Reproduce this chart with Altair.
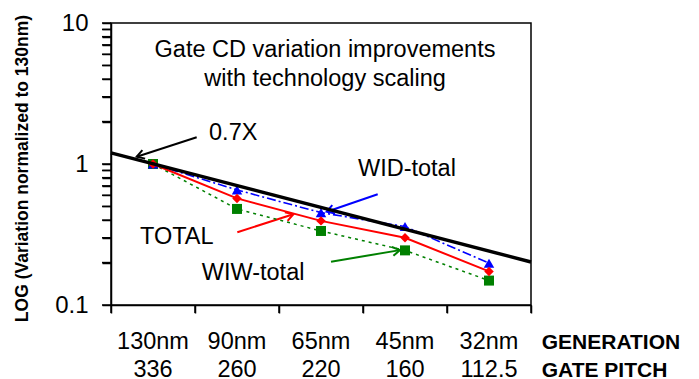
import altair as alt
import pandas as pd

# ---- data ----
categories = ["130nm", "90nm", "65nm", "45nm", "32nm"]
gate_pitch = ["336", "260", "220", "160", "112.5"]
total = [1.0, 0.57, 0.395, 0.30, 0.173]
wid_total = [1.0, 0.655, 0.452, 0.36, 0.198]
wiw_total = [1.0, 0.48, 0.335, 0.244, 0.149]

ref_x = [-0.5, 4.5]
ref_07x = [1.2, 0.202]

title_lines = ["Gate CD variation improvements", "with technology scaling"]
title_x = [2.048, 2.048]
title_y = [5.77, 3.57]

label_text = ["0.7X", "WID-total", "TOTAL", "WIW-total"]
label_x = [0.667, 2.44, -0.155, 0.58]
label_y = [1.48, 0.822, 0.2694, 0.1504]

arrow_color = ["#000000", "#0000FF", "#FF0000", "#008000"]
arrow_x0 = [0.52, 2.675, 1.004, 2.119]
arrow_y0 = [1.547, 0.61, 0.328, 0.203]
arrow_x1 = [-0.194, 2.068, 1.67, 2.94]
arrow_y1 = [1.127, 0.459, 0.44, 0.245]
arrow_angle = [162, 161, 342, 350]

# axis tick positions
x_ticks = [-0.5, 0.5, 1.5, 2.5, 3.5, 4.5]
y_ticks = [0.1, 0.2, 0.3, 0.4, 0.5, 0.6, 0.7, 0.8, 0.9,
           1, 2, 3, 4, 5, 6, 7, 8, 9, 10]

FONT = "Liberation Sans"
idx = list(range(len(categories)))

xscale = alt.Scale(domain=[-0.5, 4.5], nice=False, zero=False)
yscale = alt.Scale(type="log", domain=[0.1, 10], nice=False)

xaxis = alt.Axis(values=x_ticks, labels=False, title=None,
                 grid=False, ticks=True, tickSize=8, tickColor="black", domainColor="black",
                 domainWidth=1.5, tickWidth=1.5, tickOpacity=1, zindex=1)
yaxis = alt.Axis(values=y_ticks, grid=False, ticks=True, tickSize=9, tickColor="black",
                 tickWidth=1.5, tickOpacity=1, zindex=1,
                 domainColor="black", domainWidth=1.5,
                 labelExpr="datum.value == 10 ? '10' : (datum.value == 1 ? '1' : (abs(datum.value - 0.1) < 1e-9 ? '0.1' : ''))",
                 labelFont=FONT, labelFontSize=24, labelColor="black", labelPadding=14,
                 title="LOG (Variation normalized to 130nm)", titleFont=FONT,
                 titleFontSize=17.5, titleFontWeight="bold", titleColor="black",
                 titleAngle=270, titleX=-84, titleY=145, titleAlign="center",
                 titleBaseline="alphabetic")


def X(f):
    return alt.X(f, type="quantitative", scale=xscale, axis=xaxis)


def Y(f):
    return alt.Y(f, type="quantitative", scale=yscale, axis=yaxis)


series = pd.DataFrame({"k": idx, "cat": categories, "pitch": gate_pitch,
                       "total": total, "wid": wid_total, "wiw": wiw_total})
ref = pd.DataFrame({"k": ref_x, "v": ref_07x})
titles = pd.DataFrame({"k": title_x, "v": title_y, "t": title_lines})
labels = pd.DataFrame({"k": label_x, "v": label_y, "t": label_text})
arrows = pd.DataFrame({"k": arrow_x0, "v": arrow_y0, "k2": arrow_x1, "v2": arrow_y1,
                       "c": arrow_color, "a": arrow_angle})
xt = pd.DataFrame({"k": x_ticks})
yt = pd.DataFrame({"v": y_ticks})

base = alt.Chart(series)

# tick marks drawn as line symbols (fallback for the axis ticks)
y_tick_marks = alt.Chart(yt).mark_point(shape="M -1 0 L 1 0", filled=False, color="black",
                                        strokeWidth=1.5, size=81, opacity=1).encode(
    y=Y("v"), x=alt.value(-4.5))
x_tick_marks = alt.Chart(xt).mark_point(shape="M 0 -1 L 0 1", filled=False, color="black",
                                        strokeWidth=1.5, size=64, opacity=1).encode(
    x=X("k"), y=alt.value(286))

wiw_line = base.mark_line(color="#008000", strokeWidth=1.5, strokeDash=[3, 4]).encode(x=X("k"), y=Y("wiw"))
wiw_pts = base.mark_point(shape="square", filled=True, color="#008000", size=100, opacity=1).encode(x=X("k"), y=Y("wiw"))
wid_line = base.mark_line(color="#0000FF", strokeWidth=1.6, strokeDash=[9, 3, 2, 3]).encode(x=X("k"), y=Y("wid"))
wid_pts = base.mark_point(shape="triangle-up", filled=True, color="#0000FF", size=110, opacity=1).encode(x=X("k"), y=Y("wid"))
tot_line = base.mark_line(color="#FF0000", strokeWidth=2).encode(x=X("k"), y=Y("total"))
tot_pts = base.mark_point(shape="diamond", filled=True, color="#FF0000", size=90, opacity=1).encode(x=X("k"), y=Y("total"))

ref_line = alt.Chart(ref).mark_line(color="black", strokeWidth=3.5).encode(x=X("k"), y=Y("v"))

title_txt = alt.Chart(titles).mark_text(font=FONT, fontSize=23.5, color="black",
                                        align="center", baseline="alphabetic").encode(
    x=X("k"), y=Y("v"), text="t:N")
label_txt = alt.Chart(labels).mark_text(font=FONT, fontSize=23.5, color="black",
                                        align="left", baseline="alphabetic").encode(
    x=X("k"), y=Y("v"), text="t:N")

arrow_lines = alt.Chart(arrows).mark_rule(strokeWidth=2).encode(
    x=X("k"), y=Y("v"), x2="k2:Q", y2="v2:Q",
    color=alt.Color("c:N", scale=None))
arrow_heads = alt.Chart(arrows).mark_point(shape="M -1 -0.6 L 0 0 L -1 0.6", filled=False,
                                           strokeWidth=2, size=220, opacity=1).encode(
    x=X("k2"), y=Y("v2"), color=alt.Color("c:N", scale=None),
    angle=alt.Angle("a:Q", scale=None))

gen_txt = base.mark_text(font=FONT, fontSize=23.5, color="black", align="center",
                         baseline="alphabetic").encode(x=X("k"), y=alt.value(326.3), text="cat:N")
pitch_txt = base.mark_text(font=FONT, fontSize=23.5, color="black", align="center",
                           baseline="alphabetic").encode(x=X("k"), y=alt.value(354), text="pitch:N")
gen_head = alt.Chart(pd.DataFrame({"t": ["GENERATION"]})).mark_text(
    font=FONT, fontSize=21, fontWeight="bold", color="black", align="left",
    baseline="alphabetic").encode(x=alt.value(430.7), y=alt.value(326.3), text="t:N")
pitch_head = alt.Chart(pd.DataFrame({"t": ["GATE PITCH"]})).mark_text(
    font=FONT, fontSize=21, fontWeight="bold", color="black", align="left",
    baseline="alphabetic").encode(x=alt.value(430.7), y=alt.value(354), text="t:N")

chart = alt.layer(
    y_tick_marks, x_tick_marks,
    title_txt, label_txt, arrow_lines, arrow_heads,
    wiw_line, wiw_pts, wid_line, wid_pts, tot_line, tot_pts, ref_line,
    gen_txt, pitch_txt, gen_head, pitch_head,
).properties(
    width=420, height=282,
    autosize=alt.AutoSizeParams(type="none"),
    padding={"left": 103, "top": 15, "right": 160, "bottom": 74},
).configure_view(stroke="black", strokeWidth=1.5)

chart.save("out.html", embed_options={"renderer": "svg", "actions": False})
